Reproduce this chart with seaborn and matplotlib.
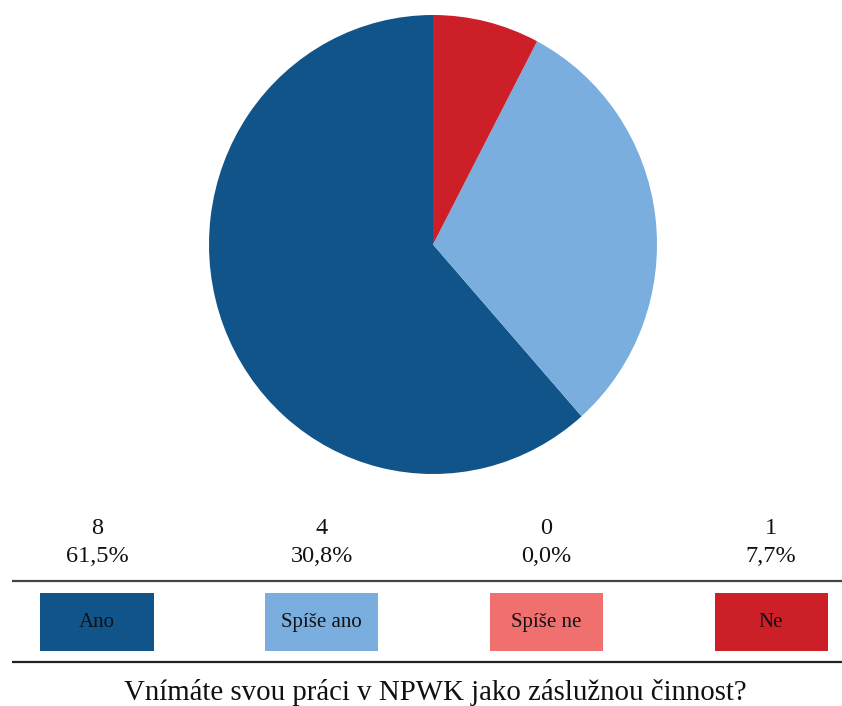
import matplotlib
matplotlib.use("Agg")
import matplotlib.pyplot as plt
from matplotlib.patches import Rectangle
import seaborn as sns

categories = ["Ano", "Spíše ano", "Spíše ne", "Ne"]
counts = [8, 4, 0, 1]
percents = ["61,5%", "30,8%", "0,0%", "7,7%"]
colors = ["#11548A", "#7AAEDF", "#F07070", "#CC1F27"]
title = "Vnímáte svou práci v NPWK jako záslužnou činnost?"

sns.set_theme(style="white")
plt.rcParams["font.family"] = ["Liberation Serif", "DejaVu Serif"]

W, H = 842, 706
fig = plt.figure(figsize=(W / 100, H / 100), dpi=100)

# Pie axes
cx, cy, rx, ry = 433, 244.5, 224, 229.5
ax = fig.add_axes([(cx - rx) / W, (H - cy - ry) / H, 2 * rx / W, 2 * ry / H])
ax.pie(counts, colors=colors, startangle=90, counterclock=True,
       wedgeprops=dict(linewidth=0))
ax.set_aspect("auto")
ax.set_xlim(-1, 1)
ax.set_ylim(-1, 1)
ax.axis("off")

# Bottom legend / label area
x0px, x1px = 12, 842
ax2 = fig.add_axes([x0px / W, 0, (x1px - x0px) / W, 206 / H])
unit = 224.67
first = 97
ax2.set_xlim(-(first - x0px) / unit, (x1px - first) / unit)
ax2.set_ylim(706, 500)
ax2.axis("off")

ax2.axhline(581, color="#444444", lw=1.6)
ax2.axhline(662, color="#222222", lw=1.6)

bw = 113 / unit
for i, (cat, n, p, c) in enumerate(zip(categories, counts, percents, colors)):
    ax2.add_patch(Rectangle((i - bw / 2, 593), bw, 58, facecolor=c, edgecolor="none"))
    ax2.text(i, 622.5, cat, ha="center", va="center", fontsize=15, color="#111111")
    ax2.text(i, 529, str(n), ha="center", va="center", fontsize=17.5, color="#111111")
    ax2.text(i, 556.5, p, ha="center", va="center", fontsize=17.5, color="#111111")

ax2.text((435 - first) / unit, 693, title, ha="center", va="center",
         fontsize=20.8, color="#111111")

fig.savefig("out.png", dpi=100)
